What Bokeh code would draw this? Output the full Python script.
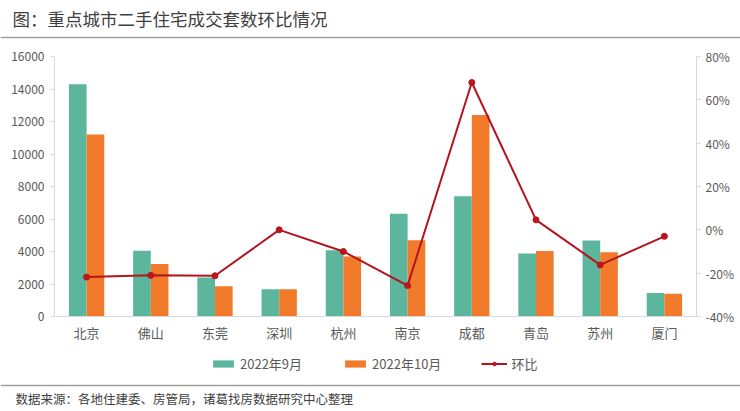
from bokeh.plotting import figure
from bokeh.models import (FactorRange, Range1d, LinearAxis, Legend, LegendItem,
                          PrintfTickFormatter, FixedTicker, ColumnDataSource)
from bokeh.layouts import column
from bokeh.transform import dodge
from bokeh.core.properties import value
from bokeh.embed import file_html
from bokeh.resources import INLINE

# ---- data ----
cities = ["北京", "佛山", "东莞", "深圳", "杭州", "南京", "成都", "青岛", "苏州", "厦门"]
sep_2022 = [14300, 4050, 2400, 1680, 4080, 6320, 7400, 3880, 4680, 1440]
oct_2022 = [11200, 3230, 1860, 1680, 3700, 4700, 12400, 4030, 3950, 1400]
mom_pct = [-21.8, -21.0, -21.2, 0.0, -10.0, -25.7, 68.0, 4.6, -16.2, -3.0]
left_ticks = [0, 2000, 4000, 6000, 8000, 10000, 12000, 14000, 16000]
right_ticks = [-40, -20, 0, 20, 40, 60, 80]
series_labels = ["2022年9月", "2022年10月", "环比"]
title_text = "图：重点城市二手住宅成交套数环比情况"
source_text = "数据来源：各地住建委、房管局，诸葛找房数据研究中心整理"

FONT = "Noto Sans CJK SC"
GREEN = "#5cb59d"
ORANGE = "#f27b2b"
RED = "#b3141d"
AXIS = "#d9d9d9"
LABEL = "#595959"
RULE = "#a0a0a0"
W = 740


def strip(height):
    f = figure(width=W, height=height, x_range=Range1d(0, W), y_range=Range1d(0, height),
               output_backend="svg", toolbar_location=None, min_border=0,
               x_axis_location=None, y_axis_location=None)
    f.xgrid.visible = False
    f.ygrid.visible = False
    f.outline_line_color = None
    try:
        f.frame_align = False
    except Exception:
        pass
    return f


src = ColumnDataSource(dict(city=cities, sep=sep_2022, octo=oct_2022, mom=mom_pct))

# ---- title strip (page y 0..40) ----
TH = 40
t = strip(TH)
t.text(x=[12], y=[TH - 18], text=[title_text], text_font=value(FONT),
       text_font_size="17.5px", text_color="#404040", text_baseline="middle")
t.segment(x0=[0], y0=[TH - 37], x1=[W], y1=[TH - 37], line_color=RULE, line_width=1.5)

# ---- main chart (page y 40..346) ----
p = figure(x_range=FactorRange(*cities, range_padding=0), y_range=Range1d(0, 16000),
           width=W, height=306, output_backend="svg", toolbar_location=None,
           min_border_left=54, min_border_right=44, min_border_top=16,
           min_border_bottom=30)
p.extra_y_ranges = {"pct": Range1d(-40, 80)}
p.xgrid.visible = False
p.ygrid.visible = False
p.outline_line_color = None

p.vbar(x=dodge("city", -0.1375, range=p.x_range), top="sep", width=0.275,
       source=src, fill_color=GREEN, line_color=None)
p.vbar(x=dodge("city", 0.1375, range=p.x_range), top="octo", width=0.275,
       source=src, fill_color=ORANGE, line_color=None)
p.line(x="city", y="mom", source=src, y_range_name="pct",
       line_color=RED, line_width=2)
p.scatter(x="city", y="mom", source=src, y_range_name="pct", size=6,
          fill_color="#c0141c", line_color=RED)

ya = p.yaxis[0]
ya.ticker = FixedTicker(ticks=left_ticks)

ra = LinearAxis(y_range_name="pct", ticker=FixedTicker(ticks=right_ticks),
                formatter=PrintfTickFormatter(format="%d%%"))
p.add_layout(ra, "right")

for ax in (ya, ra):
    ax.axis_line_color = AXIS
    ax.major_tick_line_color = AXIS
    ax.minor_tick_line_color = None
    ax.major_tick_out = 4
    ax.major_tick_in = 0
    ax.major_label_text_font = FONT
    ax.major_label_text_font_size = "12px"
    ax.major_label_text_color = LABEL
ya.major_label_standoff = 6
ra.major_label_standoff = 5

xa = p.xaxis[0]
xa.axis_line_color = AXIS
xa.major_tick_line_color = None
xa.minor_tick_line_color = None
xa.major_tick_out = 0
xa.major_tick_in = 0
xa.major_label_standoff = 6
xa.major_label_text_font = FONT
xa.major_label_text_font_size = "13px"
xa.major_label_text_color = LABEL

# ---- legend + source strip (page y 346..411) ----
SH = 65
s = strip(SH)
# legend swatches: same data, mapped far outside this strip's visible range
g1 = s.vbar(x="sep", top="octo", width=1, source=src, fill_color=GREEN, line_color=None)
g2 = s.vbar(x="sep", top="octo", width=1, source=src, fill_color=ORANGE, line_color=None)
g3 = s.line(x="sep", y="mom", source=src, line_color=RED, line_width=2)
g4 = s.scatter(x="sep", y="mom", source=src, size=6, fill_color="#c0141c", line_color=RED)
legend = Legend(items=[LegendItem(label=series_labels[0], renderers=[g1]),
                       LegendItem(label=series_labels[1], renderers=[g2]),
                       LegendItem(label=series_labels[2], renderers=[g3, g4])],
                orientation="horizontal", location=(210, SH - 27), spacing=40,
                glyph_width=26, glyph_height=9, label_standoff=4,
                padding=0, margin=0, border_line_color=None,
                background_fill_alpha=0, label_text_font=FONT,
                label_text_font_size="13px", label_text_color=LABEL)
s.add_layout(legend, "center")
s.segment(x0=[0], y0=[SH - 39], x1=[W], y1=[SH - 39], line_color=RULE, line_width=1.5)
s.text(x=[15], y=[SH - 52], text=[source_text], text_font=value(FONT),
       text_font_size="12.5px", text_color="#404040", text_baseline="middle")

page = column(t, p, s, spacing=0)
open("out.html", "w").write(file_html(page, INLINE))
